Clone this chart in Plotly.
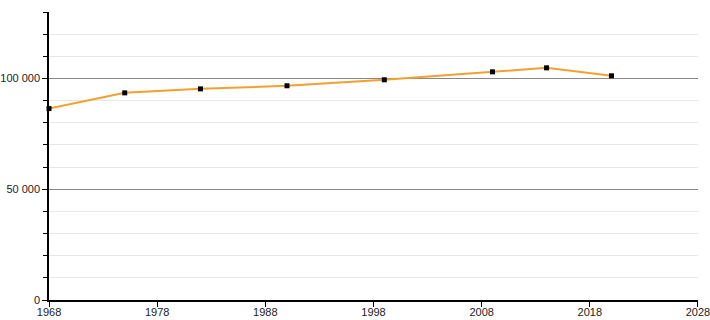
import plotly.graph_objects as go

years = [1968, 1975, 1982, 1990, 1999, 2009, 2014, 2020]
population = [86400, 93500, 95300, 96700, 99400, 103000, 104800, 101200]

x_ticks = [1968, 1978, 1988, 1998, 2008, 2018, 2028]
y_ticks = [0, 50000, 100000]
y_tick_labels = ["0", "50 000", "100 000"]

fig = go.Figure()
fig.add_trace(go.Scatter(
    x=years, y=population, mode="lines+markers",
    line=dict(color="#f2a12e", width=2),
    marker=dict(symbol="square", size=5, color="#000000"),
    hoverinfo="x+y", cliponaxis=False,
))

fig.update_layout(
    template="none",
    width=710, height=320,
    margin=dict(l=49, r=12, t=12, b=20),
    paper_bgcolor="white", plot_bgcolor="white",
    showlegend=False,
    font=dict(family="Liberation Sans, Arial, sans-serif", size=11, color="#222222"),
)
fig.update_xaxes(
    range=[1967.999, 2028.001], tickvals=x_ticks, showgrid=False, automargin=False,
    showline=True, linecolor="black", linewidth=1.5,
    ticks="outside", ticklen=5, tickcolor="black", zeroline=False,
    tickfont=dict(color="#222222", size=11),
    ticklabeloverflow="allow", ticklabelstandoff=-4,
)
fig.update_yaxes(
    range=[0, 130000], tickvals=y_ticks, ticktext=y_tick_labels, automargin=False,
    showgrid=True, gridcolor="#888888", gridwidth=1,
    showline=True, linecolor="black", linewidth=1.5,
    ticks="outside", ticklen=5, tickcolor="black", zeroline=False,
    tickfont=dict(color="#222222", size=11),
    minor=dict(dtick=10000, showgrid=True, gridcolor="#e6e6e6", gridwidth=1,
               ticks="outside", ticklen=4, tickcolor="black"),
)

fig.write_html("out.html")
